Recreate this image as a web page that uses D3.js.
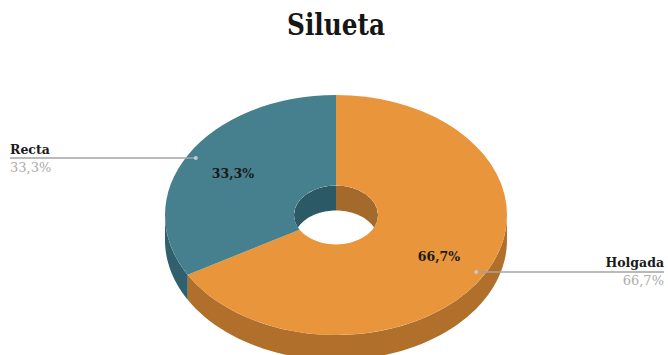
<!DOCTYPE html>
<html>
<head>
<meta charset="utf-8">
<script src="https://cdn.jsdelivr.net/npm/d3@7"></script>
<style>
  html, body { margin: 0; padding: 0; background: #ffffff; }
  svg { display: block; }
</style>
</head>
<body>
<svg id="chart" width="668" height="355"></svg>
<script>
// Silueta: 3D donut with two categories
const categories = ["Holgada", "Recta"];
const values = [66.7, 33.3];
const valueLabels = ["66,7%", "33,3%"];
const chartTitle = "Silueta";

const topColors  = ["#e8953c", "#46808e"];
const sideColors = ["#b0702c", "#30606d"];
const holeColors = ["#a46a2c", "#2c5966"];

const W = 668, H = 355;
const cx = 336, cy = 215;
const rx = 171, ry = 120;
const k = ry / rx;          // vertical squash of the tilted disc
const ri = 42;              // hole radius (horizontal)
const depth = 25;           // thickness of the disc

const svg = d3.select("#chart");

// title
svg.append("text")
  .attr("x", cx).attr("y", 35)
  .attr("text-anchor", "middle")
  .attr("font-family", "'DejaVu Serif', serif")
  .attr("font-weight", "bold")
  .attr("font-size", 29)
  .attr("textLength", 98)
  .attr("lengthAdjust", "spacingAndGlyphs")
  .attr("fill", "#161616")
  .text(chartTitle);

const pie = d3.pie().sort(null).startAngle(0).endAngle(2 * Math.PI);
const slices = pie(values);

// projected point on the tilted disc (angle clockwise from 12 o'clock)
function pt(a, r, dy = 0) {
  return [cx + r * Math.sin(a), cy - r * k * Math.cos(a) + dy];
}

// intersect [a0,a1] with a visible interval [v0,v1]
function clipRange(a0, a1, v0, v1) {
  const s = Math.max(a0, v0), e = Math.min(a1, v1);
  return e > s ? [s, e] : null;
}

// band between the rim at angle range [s,e] and the same rim lowered by depth
function wallPath(s, e, r) {
  const n = 60;
  const top = d3.range(n + 1).map(i => pt(s + (e - s) * i / n, r));
  const bot = d3.range(n + 1).map(i => pt(e - (e - s) * i / n, r, depth));
  return d3.line()(top.concat(bot)) + "Z";
}

// outer wall: front half of the rim (angles pi/2 .. 3pi/2)
const outerWalls = svg.append("g");
slices.forEach((d, i) => {
  const r = clipRange(d.startAngle, d.endAngle, Math.PI / 2, 3 * Math.PI / 2);
  if (r) {
    outerWalls.append("path")
      .attr("d", wallPath(r[0], r[1], rx))
      .attr("fill", sideColors[i]);
  }
});

// top face
const arc = d3.arc().innerRadius(ri).outerRadius(rx);
svg.append("g")
  .attr("transform", `translate(${cx},${cy}) scale(1,${k})`)
  .selectAll("path")
  .data(slices)
  .join("path")
  .attr("d", arc)
  .attr("fill", (d, i) => topColors[i]);

// inner wall of the hole: back half (angles -pi/2 .. pi/2), clipped to the opening
const defs = svg.append("defs");
defs.append("clipPath").attr("id", "holeClip")
  .append("ellipse")
  .attr("cx", cx).attr("cy", cy).attr("rx", ri).attr("ry", ri * k);

const holeG = svg.append("g").attr("clip-path", "url(#holeClip)");
slices.forEach((d, i) => {
  [[-Math.PI / 2, Math.PI / 2], [3 * Math.PI / 2, 5 * Math.PI / 2]].forEach(v => {
    const r = clipRange(d.startAngle, d.endAngle, v[0], v[1]);
    if (r) {
      holeG.append("path")
        .attr("d", wallPath(r[0], r[1], ri))
        .attr("fill", holeColors[i]);
    }
  });
});

// value labels on the slices
const labelArc = d3.arc().innerRadius(119).outerRadius(119);
svg.append("g")
  .selectAll("text")
  .data(slices)
  .join("text")
  .attr("x", d => cx + labelArc.centroid(d)[0])
  .attr("y", d => cy + labelArc.centroid(d)[1] * k + 4.5)
  .attr("text-anchor", "middle")
  .attr("font-family", "'DejaVu Serif', serif")
  .attr("font-weight", "bold")
  .attr("font-size", 12.5)
  .attr("fill", "#1a1a1a")
  .text((d, i) => valueLabels[i]);

// callouts with leader lines
const leaderArc = d3.arc().innerRadius(162).outerRadius(162);
const callouts = svg.append("g");
slices.forEach((d, i) => {
  const c = leaderArc.centroid(d);
  const px = cx + c[0], py = cy + c[1] * k;
  const right = c[0] > 0;
  const endX = right ? 664 : 10;
  callouts.append("line")
    .attr("x1", px).attr("y1", py).attr("x2", endX).attr("y2", py)
    .attr("stroke", "#a3a3a3").attr("stroke-width", 1.6);
  callouts.append("circle")
    .attr("cx", px).attr("cy", py).attr("r", 2)
    .attr("fill", "#c9c9c9");
  callouts.append("text")
    .attr("x", endX).attr("y", py - 4.5)
    .attr("text-anchor", right ? "end" : "start")
    .attr("font-family", "'DejaVu Serif', serif")
    .attr("font-weight", "bold")
    .attr("font-size", 12.5)
    .attr("fill", "#1a1a1a")
    .text(categories[i]);
  callouts.append("text")
    .attr("x", endX).attr("y", py + 13.5)
    .attr("text-anchor", right ? "end" : "start")
    .attr("font-family", "'DejaVu Serif', serif")
    .attr("font-size", 13)
    .attr("fill", "#ababab")
    .text(valueLabels[i]);
});
</script>
</body>
</html>
